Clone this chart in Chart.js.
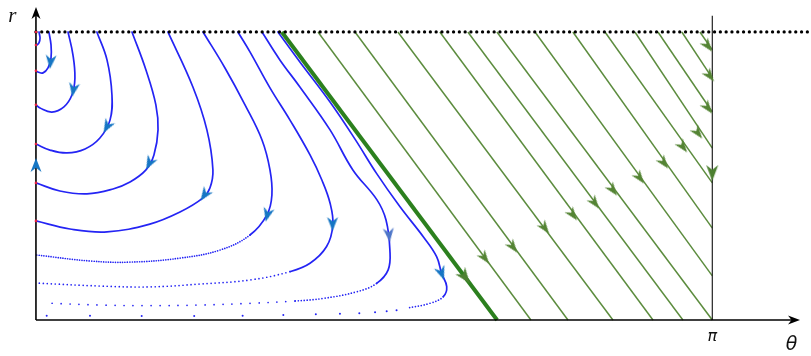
<!DOCTYPE html>
<html>
<head>
<meta charset="utf-8">
<script src="https://cdn.jsdelivr.net/npm/chart.js@4.4.1/dist/chart.umd.min.js"></script>
<style>
  html, body { margin: 0; padding: 0; background: #fff; }
  #wrap { width: 811px; height: 356px; }
</style>
</head>
<body>
<div id="wrap"><canvas id="chart"></canvas></div>
<script>
// trajectories left of the separatrix, points are [theta, r]
const blueA = [[0.014, 1], [0.019, 0.979], [0.014, 0.962], [0.005, 0.955]];
const blueB = [[0.06, 1], [0.07, 0.955], [0.07, 0.91], [0.056, 0.875], [0.033, 0.858], [0.009, 0.861], [0, 0.865]];
const blueC = [[0.149, 1], [0.172, 0.92], [0.181, 0.84], [0.167, 0.781], [0.13, 0.74], [0.074, 0.722], [0.019, 0.736], [0, 0.747]];
const blueD = [[0.283, 1], [0.33, 0.903], [0.353, 0.781], [0.344, 0.694], [0.297, 0.632], [0.228, 0.594], [0.144, 0.58], [0.065, 0.59], [0, 0.611]];
const blueE = [[0.446, 1], [0.511, 0.868], [0.557, 0.747], [0.567, 0.66], [0.548, 0.573], [0.511, 0.521], [0.437, 0.479], [0.358, 0.455], [0.237, 0.438], [0.111, 0.448], [0, 0.476]];
const blueF = [[0.613, 1], [0.729, 0.809], [0.794, 0.66], [0.822, 0.521], [0.808, 0.458], [0.776, 0.424], [0.669, 0.375], [0.529, 0.333], [0.33, 0.306], [0.158, 0.316], [0, 0.344]];
const blueG = [[0.776, 1], [0.878, 0.875], [0.971, 0.747], [1.05, 0.625], [1.087, 0.521], [1.096, 0.434], [1.073, 0.365], [0.994, 0.295], [0.855, 0.243], [0.669, 0.215], [0.437, 0.201], [0.251, 0.205], [0, 0.226]];
const blueH = [[0.938, 1], [0.994, 0.931], [1.087, 0.806], [1.18, 0.694], [1.273, 0.573], [1.328, 0.486], [1.366, 0.406], [1.379, 0.33], [1.35, 0.255], [1.273, 0.197], [1.18, 0.168], [0.994, 0.139], [0.762, 0.125], [0.53, 0.115], [0.297, 0.118], [0.009, 0.128]];
const blueI = [[1.05, 1], [1.133, 0.903], [1.226, 0.809], [1.366, 0.66], [1.472, 0.521], [1.584, 0.417], [1.626, 0.347], [1.644, 0.243], [1.636, 0.174], [1.582, 0.127], [1.49, 0.098], [1.334, 0.075], [1.203, 0.066], [0.994, 0.058], [0.762, 0.052], [0.53, 0.05], [0.297, 0.052], [0.042, 0.059]];
const blueJ = [[1.124, 1], [1.226, 0.896], [1.366, 0.757], [1.482, 0.628], [1.582, 0.509], [1.691, 0.393], [1.799, 0.289], [1.861, 0.22], [1.884, 0.162], [1.908, 0.116], [1.892, 0.081], [1.83, 0.058], [1.722, 0.041]];
const blueJDots = [[1.675, 0.034], [1.629, 0.03], [1.575, 0.027], [1.502, 0.023], [1.412, 0.022], [1.3, 0.02], [1.149, 0.017], [0.96, 0.015], [0.735, 0.014], [0.491, 0.014], [0.251, 0.015], [0.05, 0.015]];
const axisHits = [1, 0.955, 0.865, 0.747, 0.611, 0.476, 0.344];

const blueArrows = [[0.068, 0.896], [0.174, 0.799], [0.33, 0.671], [0.527, 0.544], [0.783, 0.434], [1.075, 0.365], [1.378, 0.333], [1.64, 0.295], [1.884, 0.162], [0, 0.538]];
const blueArrowAngles = [185, 190, 209, 208, 215, 194, 180, 174, 160, 0];

// straight trajectories right of the separatrix
const separatrix = [[1.142, 1], [2.142, 0]];
const greenStartTheta = [1.31, 1.482, 1.681, 1.876, 2.006, 2.141, 2.318, 2.494, 2.643, 2.782, 2.889, 3.0, 3.084];
const greenEnd = [[2.299, 0], [2.471, 0], [2.68, 0], [2.866, 0], [3.005, 0], [3.1416, 0], [3.1416, 0.153], [3.1416, 0.319], [3.1416, 0.476], [3.1416, 0.597], [3.1416, 0.722], [3.1416, 0.84], [3.1416, 0.938]];
const greenArrows = [[2.085, 0.215], [2.216, 0.253], [2.364, 0.319], [2.494, 0.365], [2.596, 0.406], [2.68, 0.451], [2.805, 0.493], [2.917, 0.545], [3.005, 0.601], [3.075, 0.649], [3.121, 0.736], [3.13, 0.847], [3.121, 0.951]];
const separatrixArrow = [[1.993, 0.149]];
const piArrow = [[3.1416, 0.51]];

const axisLabels = ['r', 'θ', 'π'];

const BLUE = 'rgb(36,36,244)';
const GREEN = 'rgb(92,140,62)';

const toXY = pts => pts.map(([t, r]) => ({ x: t, y: r }));

function arrowImg(len, wid, color) {
  const s = Math.ceil(Math.max(len, wid)) + 2;
  const c = document.createElement('canvas');
  c.width = s; c.height = s;
  const g = c.getContext('2d');
  const cx = s / 2, top = (s - len) / 2, bot = (s + len) / 2;
  g.fillStyle = color;
  g.beginPath();
  g.moveTo(cx, top);
  g.lineTo(cx + wid / 2, bot);
  g.lineTo(cx, bot - len * 0.3);
  g.lineTo(cx - wid / 2, bot);
  g.closePath();
  g.fill();
  return c;
}

const blueHead = arrowImg(14, 11, 'rgb(22,118,196)');
const paleBlueHead = arrowImg(14, 11, 'rgb(78,118,200)');
const greenHead = arrowImg(14, 10, 'rgb(84,132,52)');
const bigGreenHead = arrowImg(16, 12, 'rgb(76,128,48)');
const blackHead = arrowImg(12, 9, '#000');

// which part of a curve is drawn as dots: [from point index, gap]
const dotSpec = { 6: [[7, 2.4]], 7: [[10, 4]], 8: [[9, 3], [12, 9]], 9: [[10, 3]] };

const blueCurves = [blueA, blueB, blueC, blueD, blueE, blueF, blueG, blueH, blueI, blueJ];
const datasets = [];

blueCurves.forEach((pts, i) => {
  const ds = {
    data: toXY(pts), showLine: true, borderColor: BLUE, borderWidth: 1.7,
    pointRadius: 0, tension: 0.4, borderCapStyle: 'round', order: 4
  };
  if (dotSpec[i]) {
    ds.segment = {
      borderDash: ctx => {
        let d;
        for (const [k, g] of dotSpec[i]) if (ctx.p0DataIndex >= k) d = [0, g];
        return d;
      }
    };
  }
  datasets.push(ds);
});

datasets.push({
  data: toXY(blueJDots), pointRadius: 1, pointBackgroundColor: BLUE,
  pointBorderWidth: 0, order: 4
});

greenStartTheta.forEach((t, i) => {
  datasets.push({
    data: toXY([[t, 1], greenEnd[i]]), showLine: true, borderColor: GREEN,
    borderWidth: 1.5, pointRadius: 0, order: 4
  });
});

datasets.push({
  data: toXY(separatrix), showLine: true, borderColor: 'rgb(44,128,30)',
  borderWidth: 4, pointRadius: 0, order: 3
});

// dotted line r = 1
datasets.push({
  data: toXY([[0, 1], [3.6, 1]]), showLine: true, borderColor: '#000',
  borderWidth: 3.3, borderDash: [0, 5.8], borderCapStyle: 'round', pointRadius: 0, order: 2
});

// axes and the line theta = pi
datasets.push({
  data: toXY([[0, 0], [0, 1.06]]), showLine: true, borderColor: '#000',
  borderWidth: 1.6, pointRadius: 0, order: 1
});
datasets.push({
  data: toXY([[0, 0], [3.52, 0]]), showLine: true, borderColor: '#000',
  borderWidth: 1.6, pointRadius: 0, order: 1
});
datasets.push({
  data: toXY([[Math.PI, 0], [Math.PI, 1.056]]), showLine: true, borderColor: '#222',
  borderWidth: 1.2, pointRadius: 0, order: 1
});

datasets.push({
  data: axisHits.map(r => ({ x: 0, y: r })), pointRadius: 1.3,
  pointBackgroundColor: 'rgb(230,30,60)', pointBorderWidth: 0, order: 0
});

// arrow heads
datasets.push({
  data: toXY(blueArrows),
  pointStyle: blueArrows.map((p, i) => (i === 7 ? paleBlueHead : blueHead)),
  pointRadius: 6, pointRotation: blueArrowAngles, order: 0
});
datasets.push({
  data: toXY(greenArrows), pointStyle: greenHead, pointRadius: 6,
  pointRotation: 143, order: 0
});
datasets.push({
  data: toXY(separatrixArrow), pointStyle: bigGreenHead, pointRadius: 7,
  pointRotation: 143, order: 0
});
datasets.push({
  data: toXY(piArrow), pointStyle: bigGreenHead, pointRadius: 7,
  pointRotation: 180, order: 0
});
datasets.push({
  data: toXY([[0, 1.066], [3.521, 0]]), pointStyle: blackHead, pointRadius: 6,
  pointRotation: [0, 90], order: 0
});

const labelPlugin = {
  id: 'axisText',
  afterDatasetsDraw(chart) {
    const { ctx, scales: { x, y } } = chart;
    ctx.save();
    ctx.fillStyle = '#111';
    ctx.textAlign = 'center';
    ctx.textBaseline = 'middle';
    ctx.font = 'italic 21px "Liberation Serif"';
    ctx.fillText(axisLabels[0], x.getPixelForValue(-0.11), y.getPixelForValue(1.055));
    ctx.font = 'italic 19px "DejaVu Sans"';
    ctx.fillText(axisLabels[1], x.getPixelForValue(3.51), y.getPixelForValue(-0.087));
    ctx.font = 'italic 16px "DejaVu Sans"';
    ctx.fillText(axisLabels[2], x.getPixelForValue(Math.PI), y.getPixelForValue(-0.06));
    ctx.restore();
  }
};

new Chart(document.getElementById('chart'), {
  type: 'scatter',
  data: { datasets },
  options: {
    responsive: true,
    maintainAspectRatio: false,
    animation: false,
    events: [],
    layout: { padding: 0, autoPadding: false },
    scales: {
      x: { type: 'linear', min: -0.167, max: 3.6, display: false },
      y: { type: 'linear', min: -0.125, max: 1.111, display: false }
    },
    plugins: {
      legend: { display: false },
      tooltip: { enabled: false }
    }
  },
  plugins: [labelPlugin]
});
</script>
</body>
</html>
